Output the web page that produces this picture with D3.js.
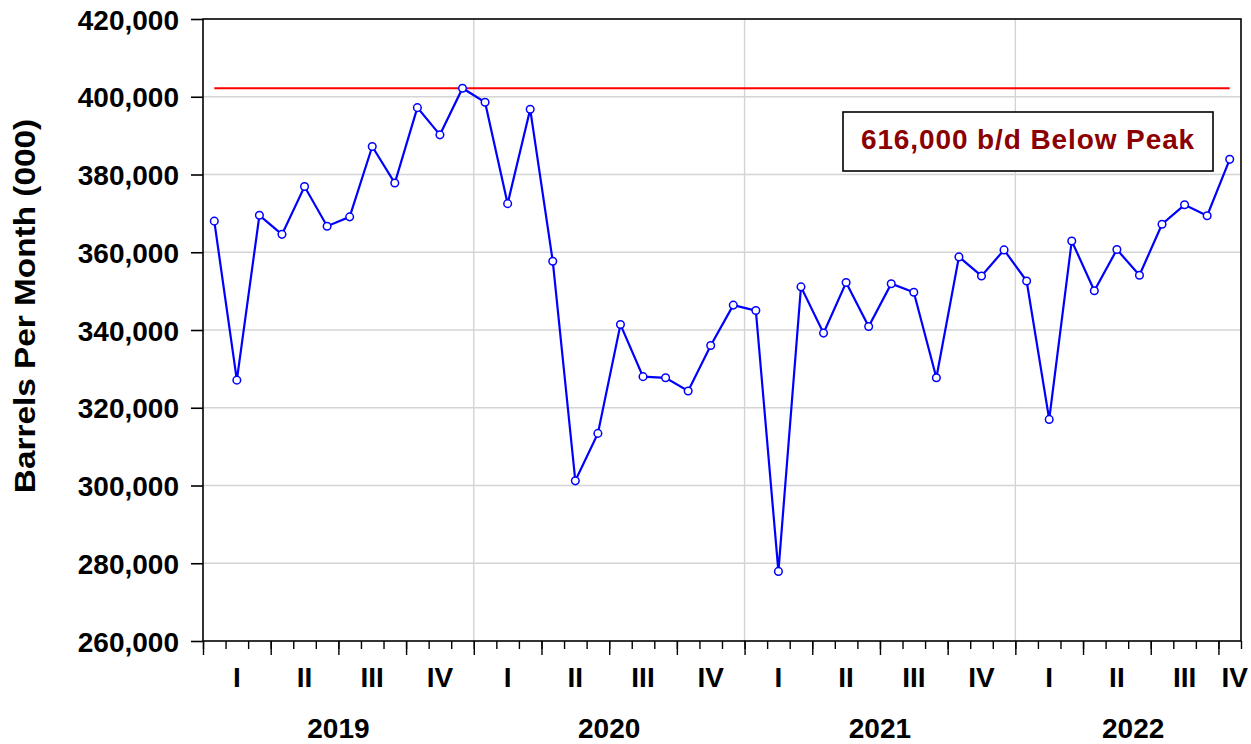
<!DOCTYPE html>
<html>
<head>
<meta charset="utf-8">
<script src="https://cdn.jsdelivr.net/npm/d3@7"></script>
<style>
  body { margin: 0; background: #fff; }
  svg { display: block; font-family: "Liberation Sans", Arial, sans-serif; font-weight: bold; }
</style>
</head>
<body>
<div id="display"></div>
<script>
// monthly values, Jan 2019 .. Oct 2022 (thousand barrels per month)
const years = [2019, 2020, 2021, 2022]
const quarterLabels = ["I", "II", "III", "IV"]
const values = [
  368000, 327100, 369500, 364600, 376900, 366700, 369100, 387200, 377800, 397200, 390200, 402200,
  398600, 372500, 396800, 357700, 301200, 313400, 341400, 328000, 327700, 324300, 336000, 346400,
  345000, 277900, 351100, 339200, 352200, 340900, 351900, 349700, 327700, 358800, 353900, 360600,
  352600, 317000, 362900, 350100, 360700, 354100, 367200, 372200, 369400, 383900
]
const yTicks = [260000, 280000, 300000, 320000, 340000, 360000, 380000, 400000, 420000]
const note = "616,000 b/d Below Peak"

const width = 1251
const height = 744
const plotLeft = 203, plotRight = 1241, plotTop = 19, plotBottom = 641
const nMonths = values.length

const svg = d3.select("#display")
  .append("svg")
  .attr("width", width)
  .attr("height", height)

const x = d3.scaleLinear().domain([0, nMonths]).range([plotLeft, plotRight])
const y = d3.scaleLinear().domain([260000, 420000]).range([plotBottom, plotTop])

// grid
svg.append("g")
  .selectAll("line")
  .data(yTicks.slice(1, -1))
  .enter()
  .append("line")
    .attr("x1", plotLeft).attr("x2", plotRight)
    .attr("y1", d => y(d)).attr("y2", d => y(d))
    .attr("stroke", "#d4d4d4")
    .attr("stroke-width", 1.4)

svg.append("g")
  .selectAll("line")
  .data(years.slice(1))
  .enter()
  .append("line")
    .attr("x1", (d, i) => x((i + 1) * 12)).attr("x2", (d, i) => x((i + 1) * 12))
    .attr("y1", plotTop).attr("y2", plotBottom)
    .attr("stroke", "#d4d4d4")
    .attr("stroke-width", 1.4)

// peak line
const peak = d3.max(values)
const line = d3.line().x(d => x(d[0] + 0.5)).y(d => y(d[1]))

svg.append("path")
  .attr("d", line([[0, peak], [nMonths - 1, peak]]))
  .attr("fill", "none")
  .attr("stroke", "#ff0000")
  .attr("stroke-width", 2)

// series
svg.append("path")
  .attr("d", line(values.map((v, i) => [i, v])))
  .attr("fill", "none")
  .attr("stroke", "#0000ff")
  .attr("stroke-width", 2.2)

svg.append("g")
  .selectAll("circle")
  .data(values)
  .enter()
  .append("circle")
    .attr("cx", (d, i) => x(i + 0.5))
    .attr("cy", d => y(d))
    .attr("r", 3.8)
    .attr("fill", "#fff")
    .attr("stroke", "#0000ff")
    .attr("stroke-width", 1.5)

// frame
svg.append("rect")
  .attr("x", plotLeft).attr("y", plotTop)
  .attr("width", plotRight - plotLeft).attr("height", plotBottom - plotTop)
  .attr("fill", "none")
  .attr("stroke", "#000")
  .attr("stroke-width", 1.6)

// y axis
const yAxis = svg.append("g")
  .attr("transform", `translate(${plotLeft},0)`)
  .call(d3.axisLeft(y).tickValues(yTicks).tickSize(12).tickFormat(d3.format(",")))
yAxis.select(".domain").remove()
yAxis.selectAll("line").attr("stroke-width", 1.6)
yAxis.selectAll("text")
  .attr("x", -24).attr("dy", null).attr("y", 10)
  .attr("text-anchor", "end")
  .style("font-family", "Liberation Sans, Arial, sans-serif")
  .style("font-weight", "bold")
  .style("font-size", "28px")
  .attr("fill", "#000")

// x axis: month ticks and quarter ticks
const monthAxis = svg.append("g")
  .attr("transform", `translate(0,${plotBottom})`)
  .call(d3.axisBottom(x).tickValues(d3.range(0, nMonths + 1)).tickSize(8).tickFormat(""))
monthAxis.select(".domain").remove()
monthAxis.selectAll("line").attr("stroke-width", 1.4)

const quarterAxis = svg.append("g")
  .attr("transform", `translate(0,${plotBottom})`)
  .call(d3.axisBottom(x).tickValues(d3.range(0, nMonths + 1, 3)).tickSize(14).tickFormat(""))
quarterAxis.select(".domain").remove()
quarterAxis.selectAll("line").attr("stroke-width", 1.4)

// labels centred on the interval, clipped to the picture
const clipCentre = (a, b) => (x(a) + Math.min(x(b), width)) / 2

const quarters = d3.range(0, Math.ceil(nMonths / 3))
svg.append("g")
  .selectAll("text")
  .data(quarters)
  .enter()
  .append("text")
    .attr("x", q => clipCentre(q * 3, q * 3 + 3))
    .attr("y", 687)
    .attr("text-anchor", "middle")
    .style("font-size", "28px")
    .text(q => quarterLabels[q % 4])

svg.append("g")
  .selectAll("text")
  .data(years)
  .enter()
  .append("text")
    .attr("x", (d, i) => clipCentre(i * 12, i * 12 + 12))
    .attr("y", 738)
    .attr("text-anchor", "middle")
    .style("font-size", "28px")
    .text(d => d)

// y title
svg.append("text")
  .attr("transform", "translate(35,306) rotate(-90) scale(1.15,1)")
  .attr("text-anchor", "middle")
  .style("font-size", "29px")
  .text("Barrels Per Month (000)")

// annotation
svg.append("rect")
  .attr("x", 843).attr("y", 112)
  .attr("width", 370).attr("height", 59)
  .attr("fill", "#fff")
  .attr("stroke", "#000")
  .attr("stroke-width", 1.6)

svg.append("text")
  .attr("x", 1028).attr("y", 149)
  .attr("text-anchor", "middle")
  .attr("fill", "#8b0000")
  .style("font-size", "28px")
  .style("letter-spacing", "0.9px")
  .text(note)
</script>
</body>
</html>
